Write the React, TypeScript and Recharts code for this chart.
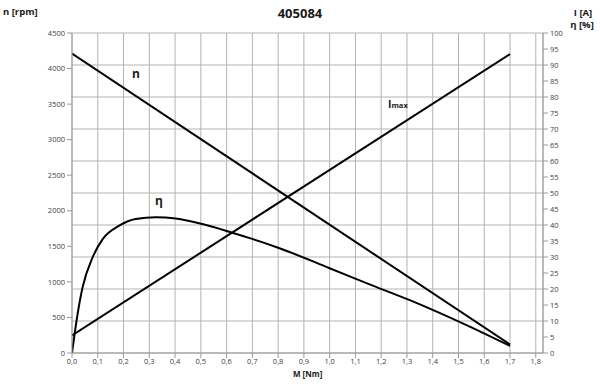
import { LineChart, Line, XAxis, YAxis, CartesianGrid } from "recharts";

// torque axis (M [Nm])
const torqueTicks = [0, 0.1, 0.2, 0.3, 0.4, 0.5, 0.6, 0.7, 0.8, 0.9, 1.0, 1.1, 1.2, 1.3, 1.4, 1.5, 1.6, 1.7, 1.8];
const speedTicks = [0, 500, 1000, 1500, 2000, 2500, 3000, 3500, 4000, 4500];
const percentTicks = [0, 5, 10, 15, 20, 25, 30, 35, 40, 45, 50, 55, 60, 65, 70, 75, 80, 85, 90, 95, 100];

// n [rpm]
const speedM = [0, 1.7];
const speedRpm = [4210, 120];

// I max
const currentM = [0, 1.7];
const currentVal = [5.5, 93.4];

// efficiency η [%]
const effM = [0, 0.009, 0.02, 0.041, 0.08, 0.119, 0.183, 0.247, 0.326, 0.403, 0.506, 0.622, 0.69, 0.8, 1.0, 1.15, 1.311, 1.531, 1.7];
const effPct = [0, 5.3, 11.3, 20.5, 29.9, 35.6, 39.8, 41.9, 42.4, 42.0, 40.3, 37.6, 35.9, 32.9, 26.5, 21.6, 16.5, 8.7, 2.2];

const speedData = speedM.map((m, i) => ({ m, v: speedRpm[i] }));
const currentData = currentM.map((m, i) => ({ m, v: currentVal[i] }));
const effData = effM.map((m, i) => ({ m, v: effPct[i] }));

const FONT = "'Open Sans', sans-serif";
const tickStyle = { fontSize: 7.5, fill: "#404040", fontFamily: FONT };
const axisGray = "#9a9a9a";

const fmtM = (v: number) => v.toFixed(1).replace(".", ",");

export default function App() {
  const txt = (extra: React.CSSProperties): React.CSSProperties => ({
    position: "absolute",
    fontFamily: FONT,
    color: "#1a1a1a",
    whiteSpace: "nowrap",
    lineHeight: 1,
    ...extra,
  });

  return (
    <div style={{ position: "relative", width: 600, height: 387, background: "#fff" }}>
      <style>{`body{margin:0}`}</style>
      <LineChart
        width={600}
        height={387}
        margin={{ top: 33, right: 0, bottom: 0, left: 0 }}
      >
        <CartesianGrid yAxisId="right" stroke="#b3b3b3" strokeWidth={1} />
        <XAxis
          dataKey="m"
          type="number"
          domain={[0, 1.828]}
          ticks={torqueTicks}
          tickFormatter={fmtM}
          allowDataOverflow
          height={34}
          tick={tickStyle}
          tickSize={5}
          tickMargin={1}
          stroke={axisGray}
        />
        <YAxis
          yAxisId="left"
          domain={[0, 4500]}
          ticks={speedTicks}
          width={72}
          tick={tickStyle}
          tickSize={5}
          tickMargin={2}
          stroke={axisGray}
          allowDataOverflow
        />
        <YAxis
          yAxisId="right"
          orientation="right"
          domain={[0, 100]}
          ticks={percentTicks}
          width={57}
          tick={{ ...tickStyle, textAnchor: "start" }}
          tickSize={5}
          tickMargin={2}
          stroke={axisGray}
          allowDataOverflow
        />
        <Line
          yAxisId="left"
          data={speedData}
          dataKey="v"
          type="linear"
          stroke="#000"
          strokeWidth={2}
          dot={false}
          isAnimationActive={false}
        />
        <Line
          yAxisId="right"
          data={currentData}
          dataKey="v"
          type="linear"
          stroke="#000"
          strokeWidth={2}
          dot={false}
          isAnimationActive={false}
        />
        <Line
          yAxisId="right"
          data={effData}
          dataKey="v"
          type="monotone"
          stroke="#000"
          strokeWidth={2}
          dot={false}
          isAnimationActive={false}
        />
      </LineChart>

      <div style={txt({ left: 0, width: 600, top: 7, textAlign: "center", fontSize: 13, fontWeight: 700 })}>405084</div>
      <div style={txt({ left: 3, top: 7, fontSize: 9.5, fontWeight: 700 })}>n [rpm]</div>
      <div style={txt({ left: 570, top: 8, width: 26, textAlign: "center", fontSize: 9.5, fontWeight: 700 })}>I [A]</div>
      <div style={txt({ left: 568, top: 20, width: 28, textAlign: "center", fontSize: 9.5, fontWeight: 700 })}>η [%]</div>
      <div style={txt({ left: 293, top: 370, fontSize: 8, fontWeight: 700 })}>M [Nm]</div>

      <div style={txt({ left: 132, top: 68, fontSize: 12, fontWeight: 700 })}>n</div>
      <div style={txt({ left: 155, top: 195, fontSize: 12, fontWeight: 700 })}>η</div>
      <div style={txt({ left: 388, top: 99, fontSize: 10.5, fontWeight: 700 })}>
        I<span style={{ fontSize: 7.5 }}>max</span>
      </div>
    </div>
  );
}
